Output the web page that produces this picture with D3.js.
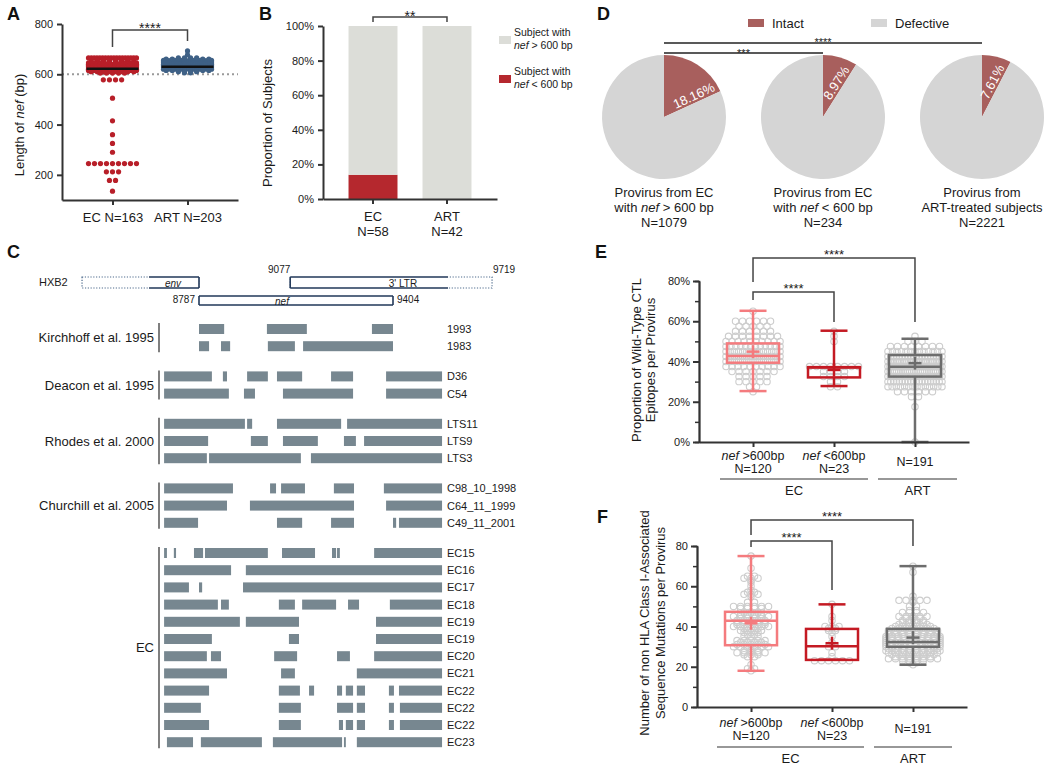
<!DOCTYPE html>
<html><head><meta charset="utf-8">
<script src="https://cdn.jsdelivr.net/npm/d3@7"></script>
<style>
body{margin:0;background:#fff;}
svg{font-family:"Liberation Sans", Arial, Helvetica, sans-serif;}
</style></head><body>
<svg id="fig" width="1050" height="768"></svg>
<script>
// ================= DATA =================
// Panel A : length of nef (bp), dots as value / count
const aCategories = ["EC N=163", "ART N=203"];
const aTicks = [200, 400, 600, 800];
const aEcValues = [665,660,655,650,645,640,635,630,625,620,615,610,605,578,505,415,360,325,290,245,212,178,135];
const aEcCounts = [18,4,6,8,10,18,14,12,14,12,10,8,5,4,1,1,1,1,1,9,3,2,1];
const aArtValues = [693,677,665,660,655,650,645,640,635,630,625,620,615,610,606];
const aArtCounts = [1,1,4,8,14,22,24,29,26,26,20,14,8,4,2];
const aMedians = [622, 630];
const aThreshold = 600;

// Panel B : proportion of subjects
const bCategories = ["EC", "ART"];
const bN = ["N=58", "N=42"];
const bShort = [0.14, 0.0];
const bTicks = [0, 0.2, 0.4, 0.6, 0.8, 1.0];
const bLegend = [["Subject with", "nef > 600 bp"], ["Subject with", "nef < 600 bp"]];

// Panel C : HXB2 map and deletion tracks (HXB2 coordinates)
const cRefTicks = [8787, 9077, 9404, 9719];
const cGenes = ["env", "3' LTR", "nef"];
const cGeneStart = [8415, 9077, 8787];
const cGeneEnd = [8787, 9719, 9404];
const cGeneSolid = [[8628, 8787], [9077, 9579], [8787, 9404]];
const cGroups = ["Kirchhoff et al. 1995", "Deacon et al. 1995", "Rhodes et al. 2000", "Churchill et al. 2005", "EC"];
const cTrackGroup = [0,0,1,1,2,2,2,3,3,3,4,4,4,4,4,4,4,4,4,4,4,4];
const cTrackNames = ["1993","1983","D36","C54","LTS11","LTS9","LTS3","C98_10_1998","C64_11_1999","C49_11_2001",
  "EC15","EC16","EC17","EC18","EC19","EC19","EC20","EC21","EC22","EC22","EC22","EC23"];
const cTrackSegments = [
  [[8787,8867],[9003,9130],[9337,9404]],
  [[8787,8819],[8857,8886],[9006,9092],[9118,9404]],
  [[8676,8828],[8863,8876],[8940,9006],[9035,9115],[9207,9277],[9382,9560]],
  [[8676,8882],[8930,8965],[9054,9277],[9382,9560]],
  [[8676,8933],[8940,8956],[9035,9239],[9258,9560]],
  [[8676,8816],[8952,9006],[9054,9165],[9248,9286],[9312,9560]],
  [[8676,8812],[8819,9111],[9143,9560]],
  [[8676,8895],[9013,9032],[9048,9124],[9216,9280],[9375,9560]],
  [[8676,8876],[8949,9280],[9382,9560]],
  [[8676,8784],[9035,9115],[9207,9280],[9404,9414],[9423,9560]],
  [[8676,8685],[8707,8714],[8771,8800],[8806,9006],[9051,9156],[9210,9223],[9226,9235],[9344,9560]],
  [[8676,8889],[8936,9560]],
  [[8676,8755],[8787,8797],[8927,9560]],
  [[8676,8847],[8857,8882],[9041,9092],[9115,9223],[9261,9296],[9394,9560]],
  [[8676,8917],[8936,9105],[9350,9560]],
  [[8676,8828],[9073,9105],[9350,9560]],
  [[8676,8812],[8825,8857],[9026,9099],[9226,9267],[9344,9560]],
  [[8676,8876],[9048,9092],[9289,9560]],
  [[8676,8819],[9041,9108],[9137,9153],[9226,9242],[9254,9277],[9289,9315],[9391,9407],[9423,9560]],
  [[8676,8793],[9041,9111],[9226,9277],[9289,9315],[9391,9407],[9426,9560]],
  [[8676,8819],[9041,9111],[9232,9245],[9254,9277],[9289,9315],[9391,9407],[9426,9560]],
  [[8685,8768],[8793,8987],[9022,9242],[9248,9254],[9289,9560]]
];

// Panel D : intact proviruses (%)
const dIntact = [18.16, 8.97, 7.61];
const dLine1 = ["Provirus from EC", "Provirus from EC", "Provirus from"];
const dLine2 = ["with nef > 600 bp", "with nef < 600 bp", "ART-treated subjects"];
const dN = ["N=1079", "N=234", "N=2221"];
const dLegend = ["Intact", "Defective"];

// Panels E/F shared categories
const efCategories = ["nef >600bp", "nef <600bp", "ART"];
const efLine1 = ["nef >600bp", "nef <600bp", ""];
const efN = ["N=120", "N=23", "N=191"];

// Panel E : proportion of wild-type CTL epitopes
const eTicks = [0, 0.2, 0.4, 0.6, 0.8];
const eMinorTicks = [0.1, 0.3, 0.5, 0.7];
const eMin = [0.253, 0.278, 0.0];
const eQ1 = [0.394, 0.321, 0.325];
const eMedian = [0.427, 0.370, 0.374];
const eQ3 = [0.490, 0.372, 0.432];
const eMax = [0.652, 0.553, 0.513];
const eMean = [0.449, 0.358, 0.392];
const eDotValues = [
  [0.65,0.60,0.575,0.55,0.525,0.50,0.475,0.45,0.425,0.40,0.375,0.35,0.325,0.30,0.275,0.25],
  [0.55,0.525,0.50,0.375,0.35,0.325,0.30,0.275],
  [0.0,0.175,0.225,0.25,0.275,0.30,0.325,0.35,0.375,0.40,0.425,0.45,0.475,0.50,0.525]
];
const eDotCounts = [
  [1,6,5,6,8,10,12,14,14,14,10,7,5,5,2,1],
  [1,1,1,8,4,4,2,2],
  [1,1,2,6,14,20,24,26,28,24,20,13,8,3,1]
];

// Panel F : number of non HLA class I-associated mutations
const fTicks = [0, 20, 40, 60, 80];
const fMinorTicks = [10, 30, 50, 70];
const fMin = [18, 23.5, 21];
const fQ1 = [30.7, 23.4, 29.9];
const fMedian = [42.9, 30.2, 32.3];
const fQ3 = [47.3, 38.8, 38.8];
const fMax = [75, 51, 70];
const fMean = [41.6, 31.7, 34.5];
const fDotValues = [
  [75,69,65,64,63,62,60,58,57,56,55,52,50,49,47,46,45,44,43,42,41,40,39,38,37,36,35,33,32,31,30,29,28,27,26,25,21,19,18],
  [51,45,43,40,39,38,37,35,32,30,27,25,23],
  [70,67,55,53,52,50,48,47,45,44,43,42,41,40,39,38,37,36,35,34,33,32,31,30,29,28,27,26,25,24,23,22,21]
];
const fDotCounts = [
  [1,1,2,3,1,1,1,1,2,3,1,2,6,4,3,4,6,4,5,5,5,6,3,4,3,2,3,5,4,5,6,1,3,5,3,2,1,2,1],
  [1,1,1,3,2,2,1,1,1,2,1,1,6],
  [1,1,1,5,1,2,2,4,5,3,4,4,5,6,7,8,8,8,10,10,10,12,10,10,8,10,8,7,6,8,4,2,1]
];

// ================= HELPERS =================
const svg = d3.select("#fig");
const INK = "#1a1a1a", AX = "#333";

function label(parent, str, x, y, o = {}) {
  const t = parent.append("text").attr("x", x).attr("y", y)
    .attr("font-size", o.size || 13)
    .attr("text-anchor", o.anchor || "start")
    .attr("fill", o.fill || INK);
  if (o.weight) t.attr("font-weight", o.weight);
  if (o.rotate != null) t.attr("transform", `rotate(${o.rotate},${x},${y})`);
  String(str).split(/(nef)/).forEach(p => {
    if (!p) return;
    const s = t.append("tspan").text(p);
    if (p === "nef") s.attr("font-style", "italic");
  });
  return t;
}
function styleAxis(g, w, fs) {
  g.attr("font-family", null).attr("font-size", null);
  g.select(".domain").attr("stroke", AX).attr("stroke-width", w);
  g.selectAll(".tick line").attr("stroke", AX).attr("stroke-width", w);
  g.selectAll(".tick text").attr("fill", INK).attr("font-size", fs);
}
function spread(values, counts, maxW, maxStep) {
  const pts = [];
  values.forEach((v, i) => {
    const n = counts[i];
    const step = n > 1 ? Math.min(maxStep, maxW / (n - 1)) : 0;
    for (let k = 0; k < n; k++) pts.push({ v, dx: (k - (n - 1) / 2) * step });
  });
  return pts;
}
function bracket(g, x1, x2, y, y1, y2, stars, fs, dy) {
  g.append("path").attr("d", `M${x1},${y1}V${y}H${x2}V${y2}`)
    .attr("fill", "none").attr("stroke", "#444").attr("stroke-width", 1.5);
  g.append("text").attr("x", (x1 + x2) / 2).attr("y", y + dy).attr("text-anchor", "middle")
    .attr("font-size", fs).attr("fill", INK).text(stars);
}
function panelLetter(t, x, y) {
  svg.append("text").attr("x", x).attr("y", y).attr("font-size", 18).attr("font-weight", "bold")
    .attr("fill", "#111").text(t);
}

// ================= PANEL A =================
(function () {
  const g = svg.append("g");
  const y = d3.scaleLinear().domain([100, 800]).range([200, 24]);
  const x = d3.scalePoint().domain(aCategories).range([62, 238]).padding(0.673);
  g.append("line").attr("x1", 62).attr("x2", 238).attr("y1", y(aThreshold)).attr("y2", y(aThreshold))
    .attr("stroke", "#9a9a9a").attr("stroke-width", 2).attr("stroke-dasharray", "2,3");
  const groups = [[aEcValues, aEcCounts, "#b81f29"], [aArtValues, aArtCounts, "#3f6186"]];
  groups.forEach(([vals, cnts, col], i) => {
    const cx = x(aCategories[i]);
    const pts = spread(vals, cnts, 48, 6.1);
    g.append("g").selectAll("circle").data(pts).join("circle")
      .attr("cx", d => cx + d.dx).attr("cy", d => y(d.v)).attr("r", 2.6).attr("fill", col);
    g.append("line").attr("x1", cx - 26).attr("x2", cx + 26)
      .attr("y1", y(aMedians[i])).attr("y2", y(aMedians[i]))
      .attr("stroke", "#111").attr("stroke-width", 2.5);
  });
  const ya = g.append("g").attr("transform", "translate(62,0)")
    .call(d3.axisLeft(y).tickValues(aTicks).tickSize(5).tickSizeOuter(0).tickPadding(4));
  styleAxis(ya, 2, 11);
  const xa = g.append("g").attr("transform", "translate(0,200)")
    .call(d3.axisBottom(x).tickSize(5).tickSizeOuter(0).tickPadding(8));
  styleAxis(xa, 2, 13);
  label(g, "Length of nef (bp)", 24, 125, { anchor: "middle", rotate: -90 });
  bracket(g, x(aCategories[0]), x(aCategories[1]), 30, 47, 41, "****", 14, 3);
  panelLetter("A", 7, 20);
})();

// ================= PANEL B =================
(function () {
  const g = svg.append("g");
  const y = d3.scaleLinear().domain([0, 1]).range([199, 26]);
  const x = d3.scaleBand().domain(bCategories).range([323, 497]).paddingInner(0.338).paddingOuter(0.345);
  const stackData = bCategories.map((c, i) => ({ c, short: bShort[i], long: 1 - bShort[i] }));
  const series = d3.stack().keys(["short", "long"])(stackData);
  const cols = { short: "#b5282e", long: "#dcddd8" };
  series.forEach(s => {
    g.append("g").selectAll("rect").data(s).join("rect")
      .attr("x", d => x(d.data.c)).attr("width", x.bandwidth())
      .attr("y", d => y(d[1])).attr("height", d => y(d[0]) - y(d[1]))
      .attr("fill", cols[s.key]);
  });
  const ya = g.append("g").attr("transform", "translate(323,0)")
    .call(d3.axisLeft(y).tickValues(bTicks).tickFormat(d3.format(".0%")).tickSize(5).tickSizeOuter(0).tickPadding(4));
  styleAxis(ya, 2, 11);
  const xa = g.append("g").attr("transform", "translate(0,199)")
    .call(d3.axisBottom(x).tickSize(5).tickSizeOuter(0).tickFormat(""));
  styleAxis(xa, 2, 13);
  bCategories.forEach((c, i) => {
    const cx = x(c) + x.bandwidth() / 2;
    label(g, c, cx, 221, { anchor: "middle" });
    label(g, bN[i], cx, 236, { anchor: "middle" });
  });
  label(g, "Proportion of Subjects", 272, 123, { anchor: "middle", rotate: -90 });
  const c0 = x(bCategories[0]) + x.bandwidth() / 2, c1 = x(bCategories[1]) + x.bandwidth() / 2;
  bracket(g, c0, c1, 17, 22, 22, "**", 14, 4);
  [cols.long, cols.short].forEach((col, i) => {
    const ly = 36 + i * 39;
    g.append("rect").attr("x", 499).attr("y", ly).attr("width", 12).attr("height", 8).attr("fill", col);
    label(g, bLegend[i][0], 514, ly, { size: 10.5 });
    label(g, bLegend[i][1], 514, ly + 13, { size: 10.5 });
  });
  panelLetter("B", 259, 20);
})();

// ================= PANEL C =================
(function () {
  const g = svg.append("g");
  const x = d3.scaleLinear().domain([8787, 9404]).range([199, 393]);
  const navy = "#22395a";
  label(g, "HXB2", 39, 286, { size: 11 });
  const rowTop = [277, 277, 296], rowH = [11, 11, 9];
  cGenes.forEach((name, i) => {
    const x0 = x(cGeneStart[i]), x1 = x(cGeneEnd[i]);
    const s0 = x(cGeneSolid[i][0]), s1 = x(cGeneSolid[i][1]);
    const t = rowTop[i], b = t + rowH[i];
    if (x0 < s0 || x1 > s1) {
      g.append("rect").attr("x", x0).attr("y", t).attr("width", x1 - x0).attr("height", b - t)
        .attr("fill", "none").attr("stroke", "#4d6a8c").attr("stroke-width", 1.2).attr("stroke-dasharray", "1.2,1.6");
      g.append("rect").attr("x", s0 - 0.5).attr("y", t - 1).attr("width", s1 - s0 + 1).attr("height", b - t + 2).attr("fill", "#fff");
    }
    let d = `M${s0},${t}H${s1}M${s0},${b}H${s1}`;
    if (s0 === x0) d += `M${s0},${t}V${b}`;
    if (s1 === x1) d += `M${s1},${t}V${b}`;
    if (x0 < s0) d += `M${s1},${t}V${b}`;
    if (x1 > s1) d += `M${s0},${t}V${b}`;
    g.append("path").attr("d", d).attr("fill", "none").attr("stroke", navy).attr("stroke-width", 1.6);
  });
  g.append("text").attr("x", 173).attr("y", 287).attr("text-anchor", "middle").attr("font-size", 10)
    .attr("font-style", "italic").attr("fill", INK).text(cGenes[0]);
  g.append("text").attr("x", 403).attr("y", 287).attr("text-anchor", "middle").attr("font-size", 10)
    .attr("fill", INK).text(cGenes[1]);
  g.append("text").attr("x", 282).attr("y", 305).attr("text-anchor", "middle").attr("font-size", 10)
    .attr("font-style", "italic").attr("fill", INK).text(cGenes[2]);
  label(g, cRefTicks[0], x(cRefTicks[0]) - 4, 303, { size: 10, anchor: "end" });
  label(g, cRefTicks[1], x(cRefTicks[1]) - 11, 273, { size: 10, anchor: "middle" });
  label(g, cRefTicks[2], x(cRefTicks[2]) + 4, 303, { size: 10, anchor: "start" });
  label(g, cRefTicks[3], x(cRefTicks[3]) + 12, 273, { size: 10, anchor: "middle" });

  const rowY = i => 329 + i * 17.2 + cTrackGroup[i] * 13;
  cTrackSegments.forEach((segs, i) => {
    const yc = rowY(i);
    g.append("g").selectAll("rect").data(segs).join("rect")
      .attr("x", d => x(d[0])).attr("width", d => x(d[1]) - x(d[0]))
      .attr("y", yc - 5).attr("height", 10).attr("fill", "#778790");
    label(g, cTrackNames[i], 447, yc + 4, { size: 11 });
  });
  cGroups.forEach((name, gi) => {
    const idx = cTrackGroup.map((v, i) => v === gi ? i : -1).filter(i => i >= 0);
    const y0 = rowY(idx[0]) - 6, y1 = rowY(idx[idx.length - 1]) + 6;
    g.append("line").attr("x1", 159).attr("x2", 159).attr("y1", y0).attr("y2", y1)
      .attr("stroke", "#555").attr("stroke-width", 1.5);
    label(g, name, 154, (y0 + y1) / 2 + 4.5, { anchor: "end" });
  });
  panelLetter("C", 7, 258);
})();

// ================= PANEL D =================
(function () {
  const g = svg.append("g");
  const cx = d3.scalePoint().domain(d3.range(dIntact.length)).range([664, 982]);
  const cy = 117, R = 62;
  const pie = d3.pie().sort(null);
  const arc = d3.arc().innerRadius(0).outerRadius(R);
  const cols = ["#a85f5d", "#d5d5d5"];
  dIntact.forEach((p, i) => {
    const pg = g.append("g").attr("transform", `translate(${cx(i)},${cy})`);
    pg.selectAll("path").data(pie([p, 100 - p])).join("path")
      .attr("d", arc).attr("fill", (d, j) => cols[j]);
    const a = 2 * Math.PI * p / 100;
    const ux = Math.sin(a), uy = -Math.cos(a), nx = -Math.cos(a), ny = -Math.sin(a);
    const px = ux * 36 + nx * 7, py = uy * 36 + ny * 7;
    pg.append("text").attr("x", px).attr("y", py).attr("text-anchor", "middle")
      .attr("dominant-baseline", "central").attr("font-size", 13).attr("fill", "#fff")
      .attr("transform", `rotate(${a * 180 / Math.PI - 90},${px},${py})`)
      .text(p.toFixed(2) + "%");
    label(g, dLine1[i], cx(i), 196.5, { anchor: "middle" });
    label(g, dLine2[i], cx(i), 211.5, { anchor: "middle" });
    label(g, dN[i], cx(i), 226.5, { anchor: "middle" });
  });
  [[748, 0], [871, 1]].forEach(([lx, k]) => {
    g.append("rect").attr("x", lx).attr("y", 19).attr("width", 16).attr("height", 8).attr("fill", cols[k]);
    label(g, dLegend[k], lx + 24, 28, { size: 13 });
  });
  g.append("line").attr("x1", cx(0)).attr("x2", cx(2)).attr("y1", 43).attr("y2", 43).attr("stroke", "#222").attr("stroke-width", 1.3);
  g.append("text").attr("x", cx(1)).attr("y", 46).attr("text-anchor", "middle").attr("font-size", 11).attr("fill", INK).text("****");
  g.append("line").attr("x1", cx(0)).attr("x2", cx(1)).attr("y1", 53).attr("y2", 53).attr("stroke", "#222").attr("stroke-width", 1.3);
  g.append("text").attr("x", (cx(0) + cx(1)) / 2).attr("y", 56.5).attr("text-anchor", "middle").attr("font-size", 11).attr("fill", INK).text("***");
  panelLetter("D", 597, 20);
})();

// ================= PANELS E & F =================
function boxPanel(cfg) {
  const g = svg.append("g");
  const y = d3.scaleLinear().domain(cfg.domain).range([cfg.y0, cfg.y1]);
  const x = d3.scalePoint().domain(efCategories).range([cfg.x0, cfg.x1]).padding(0.667);
  const cols = ["#f47b7e", "#c41a23", "#6d6d6d"];
  efCategories.forEach((c, i) => {
    const pts = spread(cfg.dotValues[i], cfg.dotCounts[i], 54, 7);
    g.append("g").selectAll("circle").data(pts).join("circle")
      .attr("cx", d => x(c) + d.dx).attr("cy", d => y(d.v)).attr("r", 3.2)
      .attr("fill", "none").attr("stroke", "#cdcdcd").attr("stroke-width", 1.1);
  });
  efCategories.forEach((c, i) => {
    const cx = x(c), col = cols[i], bw = 26, cw = 13.5, mw = 6.5;
    const bg = g.append("g").attr("stroke", col).attr("stroke-width", 2.5).attr("fill", "none");
    bg.append("line").attr("x1", cx).attr("x2", cx).attr("y1", y(cfg.max[i])).attr("y2", y(cfg.q3[i]));
    bg.append("line").attr("x1", cx).attr("x2", cx).attr("y1", y(cfg.q1[i])).attr("y2", y(cfg.min[i]));
    bg.append("line").attr("x1", cx - cw).attr("x2", cx + cw).attr("y1", y(cfg.max[i])).attr("y2", y(cfg.max[i]));
    bg.append("line").attr("x1", cx - cw).attr("x2", cx + cw).attr("y1", y(cfg.min[i])).attr("y2", y(cfg.min[i]));
    bg.append("rect").attr("x", cx - bw).attr("width", 2 * bw).attr("y", y(cfg.q3[i])).attr("height", y(cfg.q1[i]) - y(cfg.q3[i]));
    bg.append("line").attr("x1", cx - bw).attr("x2", cx + bw).attr("y1", y(cfg.median[i])).attr("y2", y(cfg.median[i]));
    bg.append("line").attr("x1", cx - mw).attr("x2", cx + mw).attr("y1", y(cfg.mean[i])).attr("y2", y(cfg.mean[i]));
    bg.append("line").attr("x1", cx).attr("x2", cx).attr("y1", y(cfg.mean[i]) - mw).attr("y2", y(cfg.mean[i]) + mw);
  });
  const yMinor = g.append("g").attr("transform", `translate(${cfg.x0},0)`)
    .call(d3.axisLeft(y).tickValues(cfg.minor).tickSize(4).tickFormat(""));
  styleAxis(yMinor, 1.5, 11);
  const ya = g.append("g").attr("transform", `translate(${cfg.x0},0)`)
    .call(d3.axisLeft(y).tickValues(cfg.ticks).tickFormat(cfg.fmt).tickSize(6).tickSizeOuter(0).tickPadding(3));
  styleAxis(ya, 2, 11);
  const xa = g.append("g").attr("transform", `translate(0,${cfg.y0})`)
    .call(d3.axisBottom(x).tickSize(5).tickSizeOuter(0).tickFormat(""));
  styleAxis(xa, 2, 11);
  efCategories.forEach((c, i) => {
    if (efLine1[i]) {
      label(g, efLine1[i], x(c), cfg.labY, { anchor: "middle", size: 12.5 });
      label(g, efN[i], x(c), cfg.labY + 12.5, { anchor: "middle", size: 12.5 });
    } else {
      label(g, efN[i], x(c), cfg.labY + 6, { anchor: "middle", size: 12.5 });
    }
  });
  cfg.groups.forEach(([name, a, b]) => {
    g.append("line").attr("x1", a).attr("x2", b).attr("y1", cfg.grpY).attr("y2", cfg.grpY)
      .attr("stroke", "#333").attr("stroke-width", 1.2);
    label(g, name, (a + b) / 2, cfg.grpY + 15.5, { anchor: "middle" });
  });
  label(g, cfg.title[0], cfg.titleX[0], cfg.titleY, { anchor: "middle", rotate: -90 });
  label(g, cfg.title[1], cfg.titleX[1], cfg.titleY, { anchor: "middle", rotate: -90 });
  const p0 = x(efCategories[0]), p1 = x(efCategories[1]), p2 = x(efCategories[2]);
  bracket(g, p0, p2, cfg.br1[0], cfg.br1[1], cfg.br1[2], "****", 13, 1);
  bracket(g, p0, p1, cfg.br2[0], cfg.br2[1], cfg.br2[2], "****", 13, 1);
}

boxPanel({
  domain: [0, 0.8], y0: 442, y1: 281, x0: 699, x1: 969,
  ticks: eTicks, minor: eMinorTicks, fmt: d3.format(".0%"),
  min: eMin, q1: eQ1, median: eMedian, q3: eQ3, max: eMax, mean: eMean,
  dotValues: eDotValues, dotCounts: eDotCounts,
  labY: 460, grpY: 479,
  groups: [["EC", 720, 868], ["ART", 878, 957]],
  title: ["Proportion of Wild-Type CTL", "Epitopes per Provirus"], titleX: [640.5, 654.5], titleY: 360,
  br1: [258, 282, 322], br2: [292, 300, 322]
});
boxPanel({
  domain: [0, 80], y0: 707, y1: 546, x0: 697, x1: 967,
  ticks: fTicks, minor: fMinorTicks, fmt: d3.format("d"),
  min: fMin, q1: fQ1, median: fMedian, q3: fQ3, max: fMax, mean: fMean,
  dotValues: fDotValues, dotCounts: fDotCounts,
  labY: 727, grpY: 747,
  groups: [["EC", 717, 864], ["ART", 874, 952]],
  title: ["Number of non HLA Class I-Associated", "Sequence Mutations per Provirus"], titleX: [648.5, 664.5], titleY: 623,
  br1: [520, 535, 546], br2: [541, 547, 590]
});
panelLetter("E", 595, 258);
panelLetter("F", 597, 523);
</script>
</body></html>
